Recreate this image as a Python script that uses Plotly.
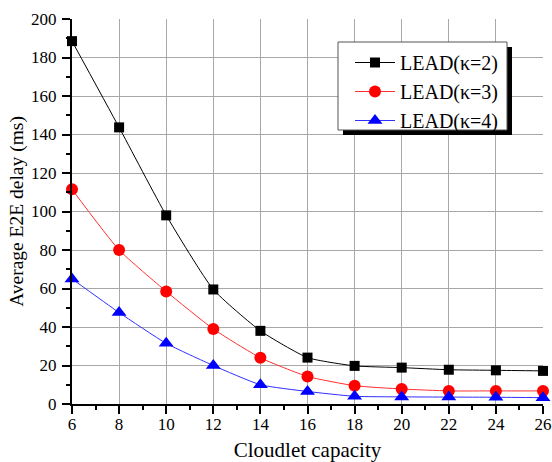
import plotly.graph_objects as go

capacity = [6, 8, 10, 12, 14, 16, 18, 20, 22, 24, 26]
lead_k2 = [188.5, 143.7, 98.0, 59.5, 38.0, 24.1, 19.8, 18.9, 17.8, 17.5, 17.2]
lead_k3 = [111.5, 80.0, 58.5, 39.0, 24.0, 14.3, 9.5, 7.8, 6.8, 6.8, 6.8]
lead_k4 = [65.0, 47.5, 31.5, 20.0, 10.0, 6.5, 4.0, 3.7, 3.6, 3.5, 3.3]
names = ["LEAD(κ=2)", "LEAD(κ=3)", "LEAD(κ=4)"]

FONT = "Liberation Serif"
L, R, T, B = 72, 543, 19, 404
W, H = R - L, B - T


def px_x(p):
    return (p - L) / W


def px_y(p):
    return (B - p) / H


fig = go.Figure()
specs = [
    (lead_k2, names[0], "black", "black", "square", 10),
    (lead_k3, names[1], "#ff3030", "red", "circle", 12),
    (lead_k4, names[2], "#3030ff", "blue", "triangle-up", 13),
]
for ys, nm, lc, mc, sym, sz in specs:
    fig.add_trace(go.Scatter(
        x=capacity, y=ys, name=nm, mode="lines+markers",
        line=dict(color=lc, width=1, shape="spline", smoothing=0.5),
        marker=dict(symbol=sym, size=sz, color=mc, line=dict(width=0)),
        cliponaxis=False,
    ))

axis_common = dict(
    showline=True, linecolor="black", linewidth=2,
    ticks="outside", ticklen=8, tickwidth=2, tickcolor="black",
    showgrid=True, gridcolor="#a8a8a8", gridwidth=1,
    zeroline=False, mirror=False, automargin=False,
    tickfont=dict(family=FONT, size=17, color="black"),
)
fig.update_xaxes(
    range=[6, 26], tickvals=capacity, ticklabelstandoff=-4, **axis_common,
    minor=dict(tickvals=[7, 9, 11, 13, 15, 17, 19, 21, 23, 25], ticklen=4,
               tickwidth=1.5, tickcolor="black", ticks="outside", showgrid=False),
    title=dict(text="Cloudlet capacity", font=dict(family=FONT, size=21, color="black"), standoff=9),
)
fig.update_yaxes(
    range=[0, 200], tickvals=[0, 20, 40, 60, 80, 100, 120, 140, 160, 180, 200],
    ticklabelstandoff=2, **axis_common,
    minor=dict(tickvals=[10, 30, 50, 70, 90, 110, 130, 150, 170, 190], ticklen=4,
               tickwidth=1.5, tickcolor="black", ticks="outside", showgrid=False),
    title=dict(text="Average E2E delay (ms)", font=dict(family=FONT, size=19.5, color="black"), standoff=2),
)

# legend shadow and box
fig.add_shape(type="rect", xref="paper", yref="paper",
              x0=px_x(343), x1=px_x(512), y0=px_y(135), y1=px_y(47),
              fillcolor="black", line=dict(width=0), layer="above")
fig.add_shape(type="rect", xref="paper", yref="paper",
              x0=px_x(338), x1=px_x(507), y0=px_y(130), y1=px_y(42),
              fillcolor="white", line=dict(width=1, color="#555"), layer="above")

fig.update_layout(
    width=552, height=462,
    margin=dict(l=L, r=552 - R, t=T, b=462 - B),
    paper_bgcolor="white", plot_bgcolor="white",
    showlegend=True,
    legend=dict(
        x=px_x(350), y=px_y(43), xanchor="left", yanchor="top",
        bgcolor="rgba(0,0,0,0)", borderwidth=0,
        font=dict(family=FONT, size=20, color="black"),
        tracegroupgap=0, itemwidth=40,
    ),
    font=dict(family=FONT, color="black"),
)
fig.write_html("out.html", config={"displayModeBar": False},
               post_script="document.body.style.margin='0';")
